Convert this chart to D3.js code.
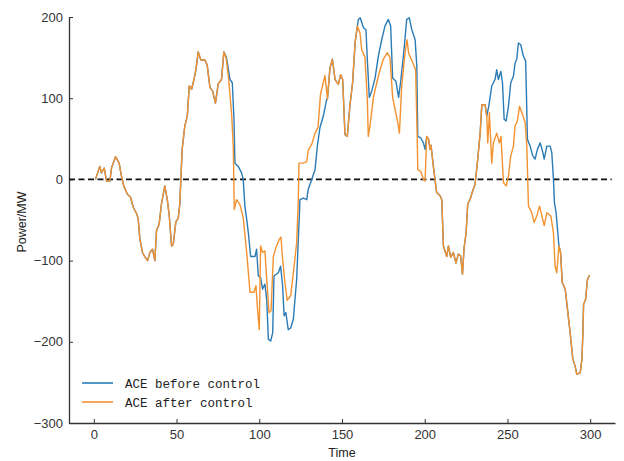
<!DOCTYPE html>
<html>
<head>
<meta charset="utf-8">
<script src="https://cdn.jsdelivr.net/npm/d3@7"></script>
<style>
  body { margin: 0; background: #fff; }
  svg { display: block; }
</style>
</head>
<body>
<svg width="624" height="461"></svg>
<script>
// ---- data: [time, power MW]
const aceAfter = [
  [1,0],[3.6,16],[4.6,8],[6.3,14],[7.7,-2],[9.7,-2],[10.7,14],[13.1,28],[15.3,20],[16.7,4],
  [18.1,-8],[20.2,-18],[22.2,-22],[23.8,-34],[25.8,-42],[26.8,-48],[27.8,-73],[29.4,-90],[30.8,-95],[32.5,-100],
  [33.9,-90],[35.5,-86],[36.9,-100],[37.9,-63],[39.5,-55],[40.9,-30],[42.9,-8],[44.4,-25],[45.6,-45],[47,-82],
  [48,-80],[49.6,-52],[51,-48],[52,-30],[52.6,0],[53.4,37],[55,66],[56.5,78],[57.7,115],[59.1,111],
  [60.5,123],[61.7,135],[63.1,157],[64.7,147],[67.1,147],[68.5,141],[70.2,113],[71.8,109],[73.5,94],[75.2,118],
  [77.2,123],[78.6,157],[80,149],[81.5,123],[83.3,80],[84.3,40],[84.9,-37],[86.3,-25],[88.3,-31],[90.3,-47],
  [92.4,-90],[94.4,-139],[96.8,-139],[98,-131],[98.8,-156],[100,-185],[100.8,-82],[102,-90],[103.4,-88],[104.5,-123],
  [105.9,-164],[107.1,-162],[108.5,-95],[110.1,-84],[112.1,-74],[113.1,-71],[114.1,-98],[115.5,-127],[116.9,-149],[119,-143],
  [120.6,-115],[122.6,-78],[123.6,-25],[124,20],[126.6,20],[128.7,22],[129.6,36],[131.7,43],[133.7,57],[135.5,64],
  [137,105],[138.7,119],[139.7,128],[141.2,99],[142.7,137],[144.2,148],[145.8,123],[147.8,117],[149.2,129],[150.4,123],
  [151.8,55],[153.2,53],[154.8,91],[156.4,119],[157.9,168],[159.3,189],[160.9,180],[161.9,160],[163.9,150],[165.3,98],
  [165.9,53],[166.9,66],[169,101],[171,119],[173,135],[175,148],[177.4,156],[179,150],[180.6,101],[182.1,86],
  [183.5,72],[184.7,57],[186.1,115],[188.1,156],[189.3,172],[190.3,155],[192.1,147],[194.5,135],[195.4,57],[195.8,12],
  [197.6,10],[199.2,0],[200.2,-2],[201.2,53],[202.4,49],[203.2,37],[203.8,42],[205.2,16],[207.2,-16],[209.3,-20],
  [210.3,-25],[211.3,-82],[213.3,-95],[214.3,-82],[215.7,-96],[217.3,-90],[218.9,-103],[220.3,-92],[221.7,-94],[222.8,-117],
  [223.8,-84],[225,-66],[226,-30],[227.4,-25],[229,-14],[230.4,-6],[231.8,20],[233.5,57],[234.5,92],[236.5,92],
  [237.5,78],[238.1,45],[239.1,82],[240.5,20],[241.5,45],[243.5,57],[245.1,45],[246.1,53],[247.6,-4],[249.2,-8],
  [250.6,4],[252,29],[253.6,41],[254.6,66],[256,72],[257.3,90],[258.7,82],[260.7,70],[261.7,41],[262.7,-33],
  [264.7,-41],[266.1,-53],[267.7,-45],[269.4,-33],[270.8,-45],[272.2,-57],[273.8,-41],[276.2,-45],[277.8,-66],[278.8,-107],
  [279.8,-115],[281.1,-82],[282.1,-90],[283.1,-127],[284.9,-135],[286.3,-160],[287.9,-189],[289.5,-221],[290.9,-230],[291.9,-240],
  [294,-238],[295,-221],[295.6,-189],[296,-154],[297.2,-148],[298.4,-123],[299.6,-118]
];

// stretches where "before control" leaves the orange line (elsewhere both are the same)
const beforeSeg1 = [
  [78.6,157],[80.2,150],[82.3,123],[83.7,119],[84.7,74],[85.3,20],[87.3,16],[89.3,8],[90.3,0],[91.3,-33],
  [92.4,-49],[93.4,-66],[94.8,-95],[97.4,-95],[98.4,-86],[99.4,-119],[100.8,-121],[102,-135],[103.4,-129],[104.5,-148],
  [105.5,-197],[106.9,-199],[108.1,-189],[108.9,-119],[111.5,-115],[112.9,-107],[114.1,-131],[115,-168],[116.1,-164],[117.5,-185],
  [119,-183],[120.6,-172],[122.6,-123],[123.6,-74],[124.6,-25],[126.6,-23],[128.7,-25],[129.6,-12],[131.7,0],[133.7,12],
  [135.1,41],[136.7,64],[138.7,78],[140.7,98]
];
const beforeSeg2 = [
  [156.4,119],[158,170],[159.9,197],[161,199],[162.9,187],[164.5,184],[165.3,148],[166.5,101],[168,109],[170,125],
  [172,152],[174,172],[176,189],[178,197],[179.4,189],[180.6,125],[182.6,121],[184.2,101],[185.5,121],[187.5,160],
  [189.1,197],[190.7,199],[192.1,185],[194.2,172],[195.2,140],[195.8,53],[197.6,51],[199.2,45],[200.2,37],[201.2,53]
];
const beforeSeg3 = [
  [237.5,78],[238.7,90],[240.5,115],[242.5,123],[243.5,135],[244.5,123],[246,133],[247,119],[248,74],[249.2,72],
  [250.6,90],[252,119],[253.6,127],[254.6,143],[255.6,148],[256.6,168],[258,166],[259.6,152],[261,146],[262.1,49],
  [263.7,41],[265.3,29],[266.7,25],[268.1,37],[269.8,45],[271.4,33],[272.2,25],[273.8,41],[275.8,41],[276.8,33],
  [277.8,0],[278.4,-29],[279.4,-41],[281.1,-82]
];

const xTicks = [0, 50, 100, 150, 200, 250, 300];
const yTicks = [-300, -200, -100, 0, 100, 200];
const legendLabels = ['ACE before control', 'ACE after control'];
const colors = ['#2b7bb6', '#f39230'];

// blue series = orange outside the divergent stretches + the stretches
const segs = [beforeSeg1, beforeSeg2, beforeSeg3];
const aceBefore = aceAfter
  .filter(d => !segs.some(s => d[0] >= s[0][0] && d[0] <= s[s.length - 1][0]))
  .concat(...segs)
  .sort((a, b) => a[0] - b[0]);

const svg = d3.select('svg');

// ---- scales
const x = d3.scaleLinear().domain([-15, 315]).range([69, 615]);
const y = d3.scaleLinear().domain([-300, 200]).range([423, 17]);

// ---- axes
const axisFont = '"Liberation Sans", Arial, sans-serif';

const gx = svg.append('g')
  .attr('transform', `translate(0, ${y(-300)})`)
  .call(d3.axisBottom(x).tickValues(xTicks).tickSizeInner(-4).tickSizeOuter(0).tickPadding(7));

const gy = svg.append('g')
  .attr('transform', `translate(${x(-15)}, 0)`)
  .call(d3.axisLeft(y).tickValues(yTicks).tickSizeInner(-4).tickSizeOuter(0).tickPadding(6));

[gx, gy].forEach(g => {
  g.select('.domain').attr('stroke', '#333').attr('stroke-width', 1.3);
  g.selectAll('.tick line').attr('stroke', '#333').attr('stroke-width', 1);
  g.selectAll('.tick text')
    .attr('fill', '#333')
    .style('font-family', axisFont)
    .style('font-size', '13px');
});

// ---- zero line
svg.append('line')
  .attr('x1', x(-15)).attr('x2', x(313))
  .attr('y1', y(0)).attr('y2', y(0))
  .attr('stroke', '#111')
  .attr('stroke-width', 1.6)
  .attr('stroke-dasharray', '6,3.5');

// ---- series (orange drawn last, on top)
const line = d3.line().x(d => x(d[0])).y(d => y(d[1]));

svg.selectAll('path.series')
  .data([aceBefore, aceAfter])
  .join('path')
  .attr('class', 'series')
  .attr('d', line)
  .attr('fill', 'none')
  .attr('stroke', (d, i) => colors[i])
  .attr('stroke-width', 1.4)
  .attr('stroke-linejoin', 'round');

// ---- axis titles
svg.append('text')
  .attr('x', 342).attr('y', 457)
  .attr('text-anchor', 'middle')
  .attr('fill', '#222')
  .style('font-family', axisFont)
  .style('font-size', '12.5px')
  .text('Time');

svg.append('text')
  .attr('transform', 'translate(26, 222) rotate(-90)')
  .attr('text-anchor', 'middle')
  .attr('fill', '#222')
  .style('font-family', axisFont)
  .style('font-size', '12.5px')
  .text('Power/MW');

// ---- legend
const legend = svg.append('g');
legendLabels.forEach((lab, i) => {
  const ly = 383 + i * 19;
  legend.append('line')
    .attr('x1', 82).attr('x2', 113)
    .attr('y1', ly).attr('y2', ly)
    .attr('stroke', colors[i])
    .attr('stroke-width', 1.6);
  legend.append('text')
    .attr('x', 125).attr('y', ly + 4.5)
    .attr('fill', '#222')
    .style('font-family', '"Liberation Mono", "DejaVu Sans Mono", monospace')
    .style('font-size', '12.5px')
    .text(lab);
});
</script>
</body>
</html>
